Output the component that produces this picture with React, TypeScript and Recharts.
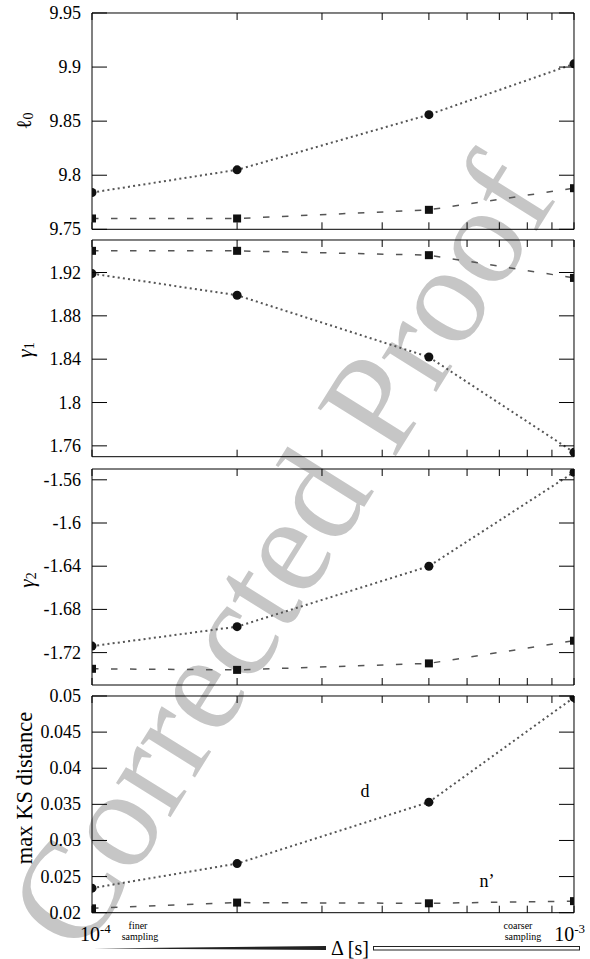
import React from 'react';
import { LineChart, Line, XAxis, YAxis } from 'recharts';

// ---- data ----
const deltas = [1e-4, 2e-4, 5e-4, 1e-3];
const xTicks = [1e-4, 2e-4, 3e-4, 4e-4, 5e-4, 6e-4, 7e-4, 8e-4, 9e-4, 1e-3];

const ell0Circle = [9.784, 9.805, 9.856, 9.903];
const ell0Square = [9.76, 9.76, 9.768, 9.788];
const gamma1Circle = [1.919, 1.899, 1.842, 1.754];
const gamma1Square = [1.94, 1.94, 1.936, 1.915];
const gamma2Circle = [-1.714, -1.696, -1.64, -1.553];
const gamma2Square = [-1.735, -1.736, -1.73, -1.709];
const ksCircle = [0.0234, 0.0268, 0.0353, 0.0498];
const ksSquare = [0.0206, 0.0214, 0.0213, 0.0216];

const ell0Ticks = [9.75, 9.8, 9.85, 9.9, 9.95];
const gamma1Ticks = [1.76, 1.8, 1.84, 1.88, 1.92];
const gamma2Ticks = [-1.72, -1.68, -1.64, -1.6, -1.56];
const ksTicks = [0.02, 0.025, 0.03, 0.035, 0.04, 0.045, 0.05];

const FONT = '"Liberation Serif", "Times New Roman", serif';
const Y_TICK_LEN = 15;
const X_TICK_LEN = 7;
const LEFT_MARGIN = 11;
const BOTTOM_LABEL_MARGIN = 28;

const fmt = (v: number) => String(+v.toFixed(4));

const SquareDot = (props: any) => {
  const { cx, cy, index } = props;
  if (cx == null || cy == null) return <g key={index} />;
  return <rect key={index} x={cx - 4} y={cy - 4} width={8} height={8} fill="#111" />;
};

const CircleDot = (props: any) => {
  const { cx, cy, index } = props;
  if (cx == null || cy == null) return <g key={index} />;
  return <circle key={index} cx={cx} cy={cy} r={4.5} fill="#111" />;
};

// left Y axis: inward tick + label outside
const LeftTick = (props: any) => {
  const { x, y, payload } = props;
  const ax = x + LEFT_MARGIN;
  return (
    <g>
      <line x1={ax} y1={y} x2={ax + Y_TICK_LEN} y2={y} stroke="#000" strokeWidth={1} />
      <text x={x} y={y} textAnchor="end" dominantBaseline="central" fontFamily={FONT} fontSize={18} fill="#000">
        {fmt(payload.value)}
      </text>
    </g>
  );
};

// right Y axis: inward tick only
const RightTick = (props: any) => {
  const { x, y } = props;
  return <line x1={x} y1={y} x2={x - Y_TICK_LEN} y2={y} stroke="#000" strokeWidth={1} />;
};

// top X axis: inward tick only
const TopTick = (props: any) => {
  const { x, y } = props;
  return <line x1={x} y1={y} x2={x} y2={y + X_TICK_LEN} stroke="#000" strokeWidth={1} />;
};

// bottom X axis: inward tick, optional decade labels
const makeBottomTick = (withLabels: boolean) => (props: any) => {
  const { x, y, payload } = props;
  const ay = withLabels ? y - BOTTOM_LABEL_MARGIN : y;
  const v = payload?.value;
  let label: React.ReactNode = null;
  if (withLabels && Math.abs(v - 1e-4) < 1e-9) {
    label = (
      <text x={x - 12} y={y} fontFamily={FONT} fontSize={20} fill="#000" textAnchor="start">
        10<tspan dy={-8} fontSize={13}>-4</tspan>
      </text>
    );
  } else if (withLabels && Math.abs(v - 1e-3) < 1e-9) {
    label = (
      <text x={x + 11} y={y} fontFamily={FONT} fontSize={20} fill="#000" textAnchor="end">
        10<tspan dy={-8} fontSize={13}>-3</tspan>
      </text>
    );
  }
  return (
    <g>
      <line x1={x} y1={ay} x2={x} y2={ay - X_TICK_LEN} stroke="#000" strokeWidth={1} />
      {label}
    </g>
  );
};

const BottomTickPlain = makeBottomTick(false);
const BottomTickLabeled = makeBottomTick(true);

type PanelProps = {
  top: number;
  height: number;
  circle: number[];
  square: number[];
  domain: [number, number];
  ticks: number[];
  last?: boolean;
};

function Panel({ top, height, circle, square, domain, ticks, last }: PanelProps) {
  const data = deltas.map((d, i) => ({ x: d, c: circle[i], s: square[i] }));
  const padTop = 12;
  const padBottom = last ? 46 : 12;
  const BottomTick = last ? BottomTickLabeled : BottomTickPlain;
  return (
    <div style={{ position: 'absolute', left: 0, top: top - padTop }}>
      <LineChart
        width={590}
        height={height + padTop + padBottom}
        data={data}
        margin={{ top: padTop - 1, bottom: padBottom - 1, left: 32, right: 15 }}
      >
        <XAxis
          xAxisId="b"
          dataKey="x"
          type="number"
          scale="log"
          domain={[1e-4, 1e-3]}
          ticks={xTicks}
          interval={0}
          orientation="bottom"
          height={1}
          tickSize={0}
          tickLine={false}
          tickMargin={last ? BOTTOM_LABEL_MARGIN : 0}
          tick={<BottomTick />}
          stroke="#000"
          allowDataOverflow
        />
        <XAxis
          xAxisId="t"
          dataKey="x"
          type="number"
          scale="log"
          domain={[1e-4, 1e-3]}
          ticks={xTicks}
          interval={0}
          orientation="top"
          height={1}
          tickSize={0}
          tickLine={false}
          tickMargin={0}
          tick={<TopTick />}
          stroke="#000"
          allowDataOverflow
        />
        <YAxis
          yAxisId="l"
          type="number"
          domain={domain}
          ticks={ticks}
          interval={0}
          width={60}
          tickSize={0}
          tickLine={false}
          tickMargin={LEFT_MARGIN}
          tick={<LeftTick />}
          stroke="#000"
          allowDataOverflow
        />
        <YAxis
          yAxisId="r"
          orientation="right"
          type="number"
          domain={domain}
          ticks={ticks}
          interval={0}
          width={1}
          tickSize={0}
          tickLine={false}
          tickMargin={0}
          tick={<RightTick />}
          stroke="#000"
          allowDataOverflow
        />
        <Line
          xAxisId="b"
          yAxisId="l"
          dataKey="c"
          type="linear"
          stroke="#555"
          strokeWidth={2}
          strokeDasharray="2 3.2"
          dot={<CircleDot />}
          activeDot={false}
          isAnimationActive={false}
        />
        <Line
          xAxisId="t"
          yAxisId="r"
          dataKey="s"
          type="linear"
          stroke="#555"
          strokeWidth={1.5}
          strokeDasharray="6.5 12.5"
          dot={<SquareDot />}
          activeDot={false}
          isAnimationActive={false}
        />
      </LineChart>
    </div>
  );
}

export default function App() {
  return (
    <div
      style={{
        position: 'absolute',
        left: 0,
        top: 0,
        width: 590,
        height: 959,
        background: '#fff',
        fontFamily: FONT,
        overflow: 'hidden',
      }}
    >
      <svg width={590} height={959} style={{ position: 'absolute', left: 0, top: 0 }}>
        <text
          x={280}
          y={552}
          fontFamily={FONT}
          fontSize={140}
          fill="#c6c6c6"
          textAnchor="middle"
          dominantBaseline="central"
          transform="rotate(-58 280 552)"
        >
          Corrected Proof
        </text>
      </svg>

      <Panel top={13} height={216.3} circle={ell0Circle} square={ell0Square} domain={[9.75, 9.95]} ticks={ell0Ticks} />
      <Panel top={240} height={216.7} circle={gamma1Circle} square={gamma1Square} domain={[1.75, 1.95]} ticks={gamma1Ticks} />
      <Panel top={469} height={216} circle={gamma2Circle} square={gamma2Square} domain={[-1.75, -1.55]} ticks={gamma2Ticks} />
      <Panel top={696} height={216.7} circle={ksCircle} square={ksSquare} domain={[0.02, 0.05]} ticks={ksTicks} last />

      <svg width={590} height={959} style={{ position: 'absolute', left: 0, top: 0, pointerEvents: 'none' }}>
        <g fontFamily={FONT} fill="#000">
          <text transform="rotate(-90 24 121)" x={24} y={121} textAnchor="middle" dominantBaseline="central" fontSize={21}>
            ℓ<tspan fontSize={14} dy={4}>0</tspan>
          </text>
          <text transform="rotate(-90 25 350)" x={25} y={350} textAnchor="middle" dominantBaseline="central" fontSize={21} fontStyle="italic">
            γ<tspan fontSize={14} dy={4} fontStyle="normal">1</tspan>
          </text>
          <text transform="rotate(-90 27 580)" x={27} y={580} textAnchor="middle" dominantBaseline="central" fontSize={21} fontStyle="italic">
            γ<tspan fontSize={14} dy={4} fontStyle="normal">2</tspan>
          </text>
          <text transform="rotate(-90 24 788)" x={24} y={788} textAnchor="middle" dominantBaseline="central" fontSize={22.5}>
            max KS distance
          </text>

          <text x={365} y={797} textAnchor="middle" fontSize={18}>d</text>
          <text x={487} y={887} textAnchor="middle" fontSize={18}>n’</text>

          <text x={138} y={929} textAnchor="middle" fontSize={10}>finer</text>
          <text x={140} y={939.5} textAnchor="middle" fontSize={10}>sampling</text>
          <text x={518} y={929} textAnchor="middle" fontSize={10}>coarser</text>
          <text x={523} y={939.5} textAnchor="middle" fontSize={10}>sampling</text>

          <text x={350} y={955} textAnchor="middle" fontSize={20}>Δ [s]</text>
        </g>
        <polygon points="94,948.5 326,946 326,950" fill="#222" />
        <rect x={373.5} y={946.5} width={206} height={3.5} fill="none" stroke="#222" strokeWidth={1} />
      </svg>
    </div>
  );
}
